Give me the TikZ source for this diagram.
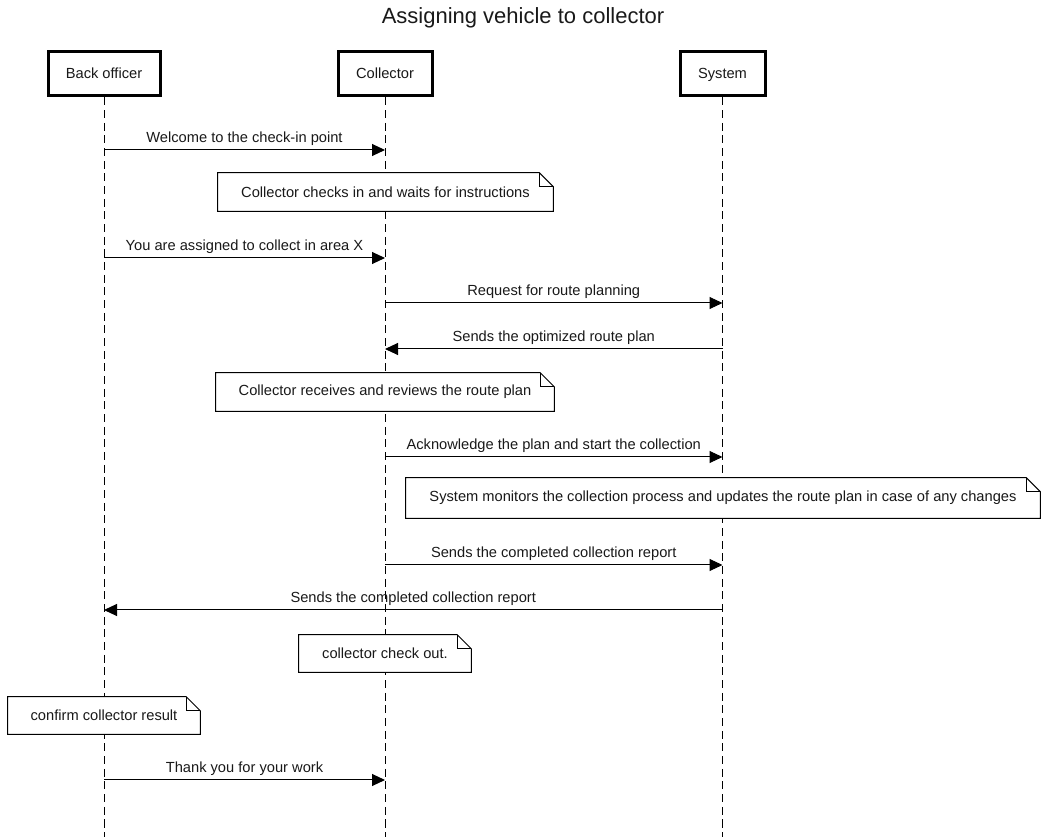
\documentclass[tikz,border=0pt]{standalone}
\usepackage{fontspec}
\setmainfont{Liberation Sans}
\usetikzlibrary{arrows.meta,calc}
\begin{document}
\begin{tikzpicture}[x=0.75pt,y=-0.75pt,
  every node/.style={font=\fontsize{11}{13}\selectfont, text=black!90},
  actor/.style={draw=black, line width=2.25pt, fill=white, minimum height=44*0.75pt, inner sep=0pt, text height=1.6ex, text depth=0.4ex},
  life/.style={line width=0.75pt, dash pattern=on 6pt off 3.5pt},
  notebox/.style={fill=white, minimum height=38*0.75pt, inner sep=0pt},
  noteline/.style={line width=0.75pt},
  msg/.style={line width=0.75pt, -{Triangle[length=9.75pt,width=9pt]}},
  lbl/.style={above, inner sep=3pt}
]
\useasboundingbox (0,0) rectangle (1047,837);
\node[font=\fontsize{16.5}{19}\selectfont] (title) at (523,18) {Assigning vehicle to collector};
\node[actor, minimum width=112*0.75pt] (bo) at (104,74) {Back officer};
\node[actor, minimum width=94*0.75pt] (col) at (385,74) {Collector};
\node[actor, minimum width=85*0.75pt] (sys) at (722.5,74) {System};
\coordinate (boend) at (104,837);
\coordinate (colend) at (385,837);
\coordinate (sysend) at (722.5,837);
\draw[life] (bo.south) -- (boend);
\draw[life] (col.south) -- (colend);
\draw[life] (sys.south) -- (sysend);
% notes
\node[notebox, minimum width=335*0.75pt] (n1) at (385.5,192) {Collector checks in and waits for instructions};
\node[notebox, minimum width=338*0.75pt] (n2) at (385,392) {Collector receives and reviews the route plan};
\node[notebox, minimum width=634*0.75pt, minimum height=40*0.75pt] (n3) at (723,498) {System monitors the collection process and updates the route plan in case of any changes};
\node[notebox, minimum width=172*0.75pt, minimum height=37*0.75pt] (n4) at (385,653.5) {collector check out.};
\node[notebox, minimum width=192*0.75pt, minimum height=37*0.75pt] (n5) at (104,715.5) {confirm collector result};
\foreach \n in {n1,n2,n3,n4,n5}{
  \draw[noteline] (\n.north west) -- ($(\n.north east)+(-14,0)$) -- ($(\n.north east)+(0,14)$) -- (\n.south east) -- (\n.south west) -- cycle;
  \draw[noteline] ($(\n.north east)+(-14,0)$) -- ($(\n.north east)+(-14,14)$) -- ($(\n.north east)+(0,14)$);
}
% messages
\draw[msg] (bo |- 0,150) -- node[lbl]{Welcome to the check-in point} (col |- 0,150);
\draw[msg] (bo |- 0,258) -- node[lbl]{You are assigned to collect in area X} (col |- 0,258);
\draw[msg] (col |- 0,303) -- node[lbl]{Request for route planning} (sys |- 0,303);
\draw[msg] (sys |- 0,349) -- node[lbl]{Sends the optimized route plan} (col |- 0,349);
\draw[msg] (col |- 0,457) -- node[lbl]{Acknowledge the plan and start the collection} (sys |- 0,457);
\draw[msg] (col |- 0,565) -- node[lbl]{Sends the completed collection report} (sys |- 0,565);
\draw[msg] (sys |- 0,610) -- node[lbl]{Sends the completed collection report} (bo |- 0,610);
\draw[msg] (bo |- 0,780) -- node[lbl]{Thank you for your work} (col |- 0,780);
\end{tikzpicture}
\end{document}
